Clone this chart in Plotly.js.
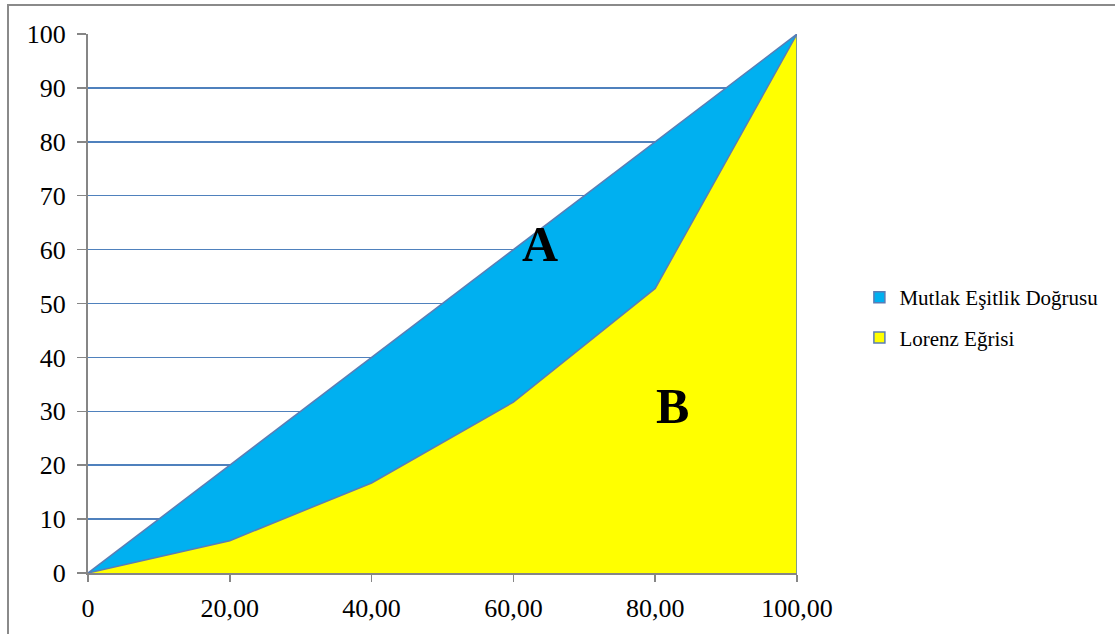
<!DOCTYPE html>
<html>
<head>
<meta charset="utf-8">
<script src="https://cdn.plot.ly/plotly-3.0.1.min.js"></script>
<style>
  html, body { margin: 0; padding: 0; background: #fff; overflow: hidden; }
  #frame { position: absolute; left: 7px; top: 4px; width: 1120px; height: 640px;
           border-left: 2px solid #8a8a8a; border-top: 2px solid #8a8a8a; pointer-events: none; z-index: 5; }
  #chart { position: absolute; left: 0; top: 0; width: 1115px; height: 634px; }
</style>
</head>
<body>
<div id="chart"></div>
<div id="frame"></div>
<script>
// Data
const xValues = [0, 20, 40, 60, 80, 100];
const equalityLine = [0, 20, 40, 60, 80, 100];
const lorenzCurve = [0, 6, 16.7, 31.7, 52.8, 100];
const seriesNames = ["Mutlak Eşitlik Doğrusu", "Lorenz Eğrisi"];
const seriesColors = ["#00b0f0", "#ffff00"];
const xTickVals = [0, 20, 40, 60, 80, 100];
const xTickText = ["0", "20,00", "40,00", "60,00", "80,00", "100,00"];
const yTickVals = [0, 10, 20, 30, 40, 50, 60, 70, 80, 90, 100];

const serif = "Times New Roman";
const outline = "#5a7db5";

const traces = [
  {
    x: xValues, y: equalityLine, name: seriesNames[0], type: "scatter", mode: "lines",
    fill: "tozeroy", fillcolor: seriesColors[0], showlegend: false,
    line: { color: outline, width: 1.5 }
  },
  {
    x: xValues, y: lorenzCurve, name: seriesNames[1], type: "scatter", mode: "lines",
    fill: "tozeroy", fillcolor: seriesColors[1], showlegend: false,
    line: { color: outline, width: 1.5 }
  },
  // legend entries (square swatches like the reference)
  {
    x: [null], y: [null], name: seriesNames[0], type: "scatter", mode: "markers",
    legendgroup: "a",
    marker: { symbol: "square", size: 11, color: seriesColors[0], line: { color: outline, width: 1.5 } }
  },
  {
    x: [null], y: [null], name: seriesNames[1], type: "scatter", mode: "markers",
    legendgroup: "b",
    marker: { symbol: "square", size: 11, color: seriesColors[1], line: { color: outline, width: 1.5 } }
  }
];

const layout = {
  width: 1115, height: 634,
  margin: { l: 88, r: 318, t: 34, b: 61 },
  paper_bgcolor: "#ffffff", plot_bgcolor: "#ffffff",
  font: { family: serif, color: "#000000" },
  showlegend: true,
  legend: {
    x: 1.088, y: 0.474, xanchor: "left", yanchor: "middle",
    font: { family: serif, size: 21, color: "#000" },
    traceorder: "grouped", itemwidth: 30, tracegroupgap: 10,
    bgcolor: "rgba(0,0,0,0)"
  },
  xaxis: {
    range: [0, 100], tickmode: "array", tickvals: xTickVals, ticktext: xTickText,
    showgrid: false, zeroline: false,
    showline: true, linecolor: "#868686", linewidth: 2,
    ticks: "outside", ticklen: 7, tickcolor: "#868686", tickwidth: 1.5,
    ticklabelstandoff: 4,
    tickfont: { family: serif, size: 26, color: "#000" }, fixedrange: true
  },
  yaxis: {
    range: [0, 100], tickmode: "array", tickvals: yTickVals,
    showgrid: true, gridcolor: "#4f81bd", gridwidth: 1.5, zeroline: false,
    showline: true, linecolor: "#868686", linewidth: 2,
    ticks: "outside", ticklen: 9, tickcolor: "#868686", tickwidth: 1.5,
    ticklabelstandoff: 6,
    tickfont: { family: serif, size: 26, color: "#000" }, fixedrange: true
  },
  shapes: [
    { type: "line", xref: "x", yref: "y", x0: 100, x1: 100, y0: 0, y1: 100,
      line: { color: outline, width: 1.5 }, layer: "above" }
  ],
  annotations: [
    { x: 63.8, y: 61, xref: "x", yref: "y", text: "<b>A</b>", showarrow: false,
      font: { family: serif, size: 50, color: "#000" } },
    { x: 82.5, y: 31, xref: "x", yref: "y", text: "<b>B</b>", showarrow: false,
      font: { family: serif, size: 50, color: "#000" } }
  ]
};

Plotly.newPlot("chart", traces, layout, { displayModeBar: false, staticPlot: true });
</script>
</body>
</html>
